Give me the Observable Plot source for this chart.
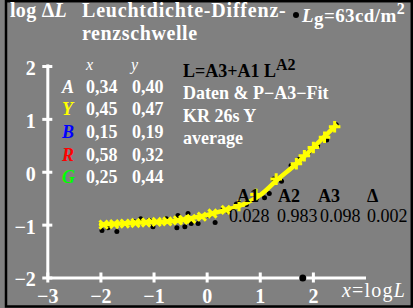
<!DOCTYPE html>
<html><head><meta charset="utf-8">
<script src="https://cdn.jsdelivr.net/npm/d3@7"></script>
<script src="https://cdn.jsdelivr.net/npm/@observablehq/plot@0.6"></script>
<style>html,body{margin:0;padding:0;background:#808080;}svg{display:block;}</style>
</head><body><div id="chart"></div>
<script>
const xTicks = [-3, -2, -1, 0, 1, 2];
const yTicks = [-2, -1, 0, 1, 2];

// measured data points (black dots)
const dataX = [-1.98,-1.87,-1.70,-1.52,-1.38,-1.25,-1.09,-1.02,-0.92,-0.77,-0.57,-0.55,-0.42,-0.36,-0.30,-0.17,0.04,0.15,0.30,0.40,0.55,0.74,0.92,1.08,1.17,1.25,1.40,1.58,1.74,1.91,2.08,2.25,2.43];
const dataY = [-1.10,-1.05,-1.12,-0.98,-0.93,-0.88,-0.91,-1.03,-0.93,-0.88,-1.05,-0.82,-1.03,-0.78,-0.97,-0.97,-0.82,-0.95,-0.70,-0.74,-0.60,-0.61,-0.51,-0.48,-0.40,-0.13,-0.17,0.13,0.25,0.38,0.50,0.61,0.90];

// fitted curve (yellow line)
const fitX = [-2.0,-1.25,-0.62,-0.11,0.32,0.65,1.0,1.3,1.68,2.0,2.42];
const fitY = [-0.99,-0.95,-0.92,-0.83,-0.72,-0.62,-0.43,-0.16,0.16,0.47,0.88];

// yellow marks along the fit
const markX = [-1.95,-1.75,-1.55,-1.35,-1.15,-0.95,-0.75,-0.55,-0.45,-0.3,-0.1,0.1,0.35,0.6,0.92,1.30,1.68,1.83,2.0,2.21,2.40];
const markY = [-0.99,-0.98,-0.97,-0.96,-0.95,-0.94,-0.93,-0.91,-0.90,-0.88,-0.84,-0.78,-0.71,-0.63,-0.42,-0.13,0.16,0.31,0.47,0.66,0.86];

const lgLog = [1.8]; // log of 63 cd/m2

const tableLetters = ["A","Y","B","R","G"];
const tableColors = ["#ffffff","#ffff00","#0000ff","#ff0000","#00ff00"];
const tableXs = ["0,34","0,45","0,15","0,58","0,25"];
const tableYs = ["0,40","0,47","0,19","0,32","0,44"];

const paramNames = ["A1","A2","A3","\u0394"];
const paramValues = ["0.028","0.983","0.098","0.002"];

const infoLines = ["Daten & P\u2212A3\u2212Fit","KR 26s Y","average"];

const pts = dataX.map((x,i)=>({x, y:dataY[i]}));
const fit = fitX.map((x,i)=>({x, y:fitY[i]}));
const marks = markX.map((x,i)=>({x, y:markY[i]}));

const fmt = d => (d < 0 ? "\u2212" + Math.abs(d) : String(d));
const FONT = "'Liberation Serif', 'Times New Roman', serif";
const th = 5/53, tv = 5/52.8;

const chart = Plot.plot({
  width: 413, height: 308,
  marginLeft: 47.3, marginRight: 47, marginTop: 66, marginBottom: 30.5,
  x: {domain: [-3, 3], axis: null},
  y: {domain: [-2, 2], axis: null},
  style: {background: "#808080", fontFamily: FONT, overflow: "visible"},
  marks: [
    Plot.ruleX([-3], {y1: -2, y2: 2.03, stroke: "white", strokeWidth: 3}),
    Plot.ruleY([-2], {x1: -3, x2: 3, stroke: "white", strokeWidth: 3}),
    Plot.ruleY(yTicks, {y: d=>d, x1: -3 - th, x2: -3 + th, stroke: "white", strokeWidth: 3}),
    Plot.ruleX(xTicks, {x: d=>d, y1: -2 - tv, y2: -2 + tv, stroke: "white", strokeWidth: 3}),
    Plot.text(yTicks, {x: -3, y: d=>d, text: fmt, textAnchor: "end", dx: -12, dy: 2, fill: "white", fontWeight: "bold", fontSize: 20}),
    Plot.text(xTicks, {x: d=>d, y: -2, text: fmt, dy: 19, fill: "white", fontWeight: "bold", fontSize: 20}),
    Plot.dot(pts, {x: "x", y: "y", r: 2.5, fill: "black"}),
    Plot.line(fit, {x: "x", y: "y", stroke: "#ffff00", strokeWidth: 4.5, curve: "monotone-x"}),
    Plot.dot(marks, {x: "x", y: "y", symbol: d => d.x < 0.5 ? "times" : "plus", r: 3.8, stroke: "#ffff00", strokeWidth: 3}),
    Plot.dot(lgLog, {x: d=>d, y: -2, r: 3.5, fill: "black"})
  ]
});
document.getElementById("chart").appendChild(chart);

const svg = d3.select(chart);
// frame
svg.append("rect").attr("x", 6).attr("y", 1.2).attr("width", 405.8).attr("height", 305.3)
  .attr("fill", "none").attr("stroke", "black").attr("stroke-width", 2.5);

function txt(x, y, spans, attrs = {}) {
  const t = svg.append("text").attr("x", x).attr("y", y)
    .attr("font-family", FONT).attr("font-size", attrs.size || 18)
    .attr("text-anchor", attrs.anchor || "start")
    .attr("font-weight", attrs.weight || "bold").attr("fill", attrs.fill || "white");
  if (attrs.ls) t.attr("letter-spacing", attrs.ls);
  for (const s of spans) {
    const sp = t.append("tspan").text(s.t);
    if (s.italic) sp.attr("font-style", "italic");
    if (s.dy) sp.attr("dy", s.dy);
    if (s.size) sp.attr("font-size", s.size);
    if (s.fill) sp.attr("fill", s.fill);
    if (s.weight) sp.attr("font-weight", s.weight);
  }
  return t;
}

// title row
txt(10, 17, [{t: "log \u0394"}, {t: "L", italic: true}], {size: 20, ls: 0.3});
txt(82, 17, [{t: "Leuchtdichte-Diffenz-"}], {size: 20, ls: 0.8});
txt(82, 40, [{t: "renzschwelle"}], {size: 20, ls: 0.6});
svg.append("circle").attr("cx", 296).attr("cy", 15).attr("r", 3).attr("fill", "black");
txt(302, 22, [{t: "L", italic: true}, {t: "g", dy: 3}, {t: "=63cd/m", dy: -3}, {t: "2", dy: -8, size: 16}], {size: 19, ls: 0.4});

// table
txt(86, 70, [{t: "x", italic: true}], {size: 16, weight: "normal"});
txt(131, 70, [{t: "y", italic: true}], {size: 16, weight: "normal"});
tableLetters.forEach((l, i) => {
  const yy = 92.7 + i * 22.6;
  txt(62, yy, [{t: l, italic: true}], {fill: tableColors[i], size: 18});
  txt(86, yy, [{t: tableXs[i]}], {size: 18});
  txt(132, yy, [{t: tableYs[i]}], {size: 18});
});

// formula and info
txt(183, 77, [{t: "L=A3+A1 L"}, {t: "A2", dy: -7, size: 16}], {fill: "black", size: 18});
infoLines.forEach((s, i) => txt(183, 99 + i * 22.5, [{t: s}], {size: 18}));

// parameters
const pNameX = [237, 278, 318, 367];
const pValX = [229, 277, 320, 367];
paramNames.forEach((p, i) => txt(pNameX[i], 202, [{t: p}], {fill: "black", size: 18}));
paramValues.forEach((v, i) => txt(pValX[i], 222, [{t: v}], {fill: "black", size: 18, weight: "normal"}));

// x-axis label
txt(342, 297, [{t: "x", italic: true}, {t: "=log"}, {t: "L", italic: true}], {size: 20, weight: "normal", ls: 1.2});
</script></body></html>
